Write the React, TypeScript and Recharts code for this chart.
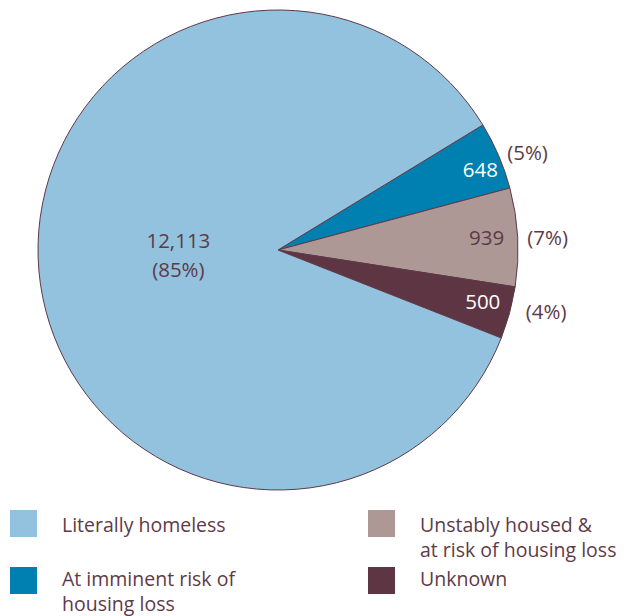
import React from 'react';
import { PieChart, Pie, Cell } from 'recharts';

const categories = [
  'At imminent risk of housing loss',
  'Unstably housed & at risk of housing loss',
  'Unknown',
  'Literally homeless',
];
const values = [648, 939, 500, 12113];
const colors = ['#0080b0', '#ae9896', '#5e3542', '#93c2de'];
const labelColors = ['#ffffff', '#5e3a48', '#ffffff', '#5e3a48'];

const legendItems = [
  { idx: 3, lines: ['Literally homeless'] },
  { idx: 1, lines: ['Unstably housed &', 'at risk of housing loss'] },
  { idx: 0, lines: ['At imminent risk of', 'housing loss'] },
  { idx: 2, lines: ['Unknown'] },
];

const data = categories.map((name, i) => ({ name, value: values[i] }));
const total = values.reduce((a, b) => a + b, 0);
const RAD = Math.PI / 180;
const TEXT = '#5e3a48';
const FONT = '"Open Sans", "Noto Sans", sans-serif';

// small angular / radial nudges for label placement
const innerShift = [{ a: -1.3, r: -22 }, { a: 0.5, r: -31 }, { a: 1.2, r: -29 }];
const outerShift = [{ a: -1.8, r: 28 }, { a: -0.3, r: 30 }, { a: 2.4, r: 35 }];

const renderLabel = (props: any) => {
  const { cx, cy, midAngle, outerRadius, index, value } = props;
  const pct = Math.round((value / total) * 100);
  if (index === 3) {
    const r = 100;
    const x = cx + r * Math.cos(-midAngle * RAD);
    const y = cy + r * Math.sin(-midAngle * RAD);
    return (
      <g>
        <text x={x} y={y - 19} fill={TEXT} fontSize={20.5} fontFamily={FONT} textAnchor="middle" dominantBaseline="central">
          {value.toLocaleString('en-US')}
        </text>
        <text x={x} y={y + 10} fill={TEXT} fontSize={20.5} fontFamily={FONT} textAnchor="middle" dominantBaseline="central">
          {`(${pct}%)`}
        </text>
      </g>
    );
  }
  const ai = (midAngle + innerShift[index].a) * RAD;
  const ri = outerRadius + innerShift[index].r;
  const xi = cx + ri * Math.cos(-ai);
  const yi = cy + ri * Math.sin(-ai);
  const ao = (midAngle + outerShift[index].a) * RAD;
  const ro = outerRadius + outerShift[index].r;
  const xo = cx + ro * Math.cos(-ao);
  const yo = cy + ro * Math.sin(-ao);
  return (
    <g>
      <text x={xi} y={yi} fill={labelColors[index]} fontSize={20.5} fontFamily={FONT} textAnchor="middle" dominantBaseline="central">
        {value.toLocaleString('en-US')}
      </text>
      <text x={xo} y={yo} fill={TEXT} fontSize={20.5} fontFamily={FONT} textAnchor="middle" dominantBaseline="central">
        {`(${pct}%)`}
      </text>
    </g>
  );
};

const legendPos = [
  { left: 10, top: 510 },
  { left: 368, top: 510 },
  { left: 10, top: 567 },
  { left: 368, top: 567 },
];

export default function App() {
  return (
    <div style={{ position: 'absolute', left: 0, top: 0, width: 627, height: 616, background: '#fff', fontFamily: FONT, overflow: 'hidden' }}>
      <PieChart width={627} height={500} margin={{ top: 0, right: 0, bottom: 0, left: 0 }}>
        <Pie
          data={data}
          dataKey="value"
          cx={278}
          cy={250}
          outerRadius={240}
          startAngle={31.4}
          endAngle={31.4 - 360}
          stroke="#5e3a48"
          strokeWidth={1}
          label={renderLabel}
          labelLine={false}
          isAnimationActive={false}
        >
          {data.map((d, i) => (
            <Cell key={d.name} fill={colors[i]} />
          ))}
        </Pie>
      </PieChart>
      {legendItems.map((item, k) => (
        <div key={k} style={{ position: 'absolute', left: legendPos[k].left, top: legendPos[k].top }}>
          <div style={{ position: 'absolute', left: 0, top: 0, width: 27, height: 27, background: colors[item.idx] }} />
          <div style={{ position: 'absolute', left: 52, top: k < 2 ? 2 : -1, whiteSpace: 'nowrap', color: TEXT, fontSize: 19.5, lineHeight: '25px' }}>
            {item.lines.map((l, j) => (
              <div key={j}>{l}</div>
            ))}
          </div>
        </div>
      ))}
    </div>
  );
}
